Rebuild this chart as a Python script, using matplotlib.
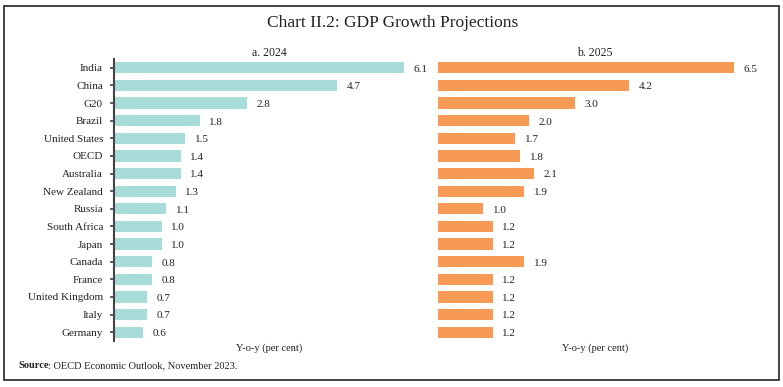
import matplotlib
matplotlib.use("Agg")
import matplotlib.pyplot as plt
from matplotlib.patches import Rectangle

countries = ["India", "China", "G20", "Brazil", "United States", "OECD", "Australia",
             "New Zealand", "Russia", "South Africa", "Japan", "Canada", "France",
             "United Kingdom", "Italy", "Germany"]
g2024 = [6.1, 4.7, 2.8, 1.8, 1.5, 1.4, 1.4, 1.3, 1.1, 1.0, 1.0, 0.8, 0.8, 0.7, 0.7, 0.6]
g2025 = [6.5, 4.2, 3.0, 2.0, 1.7, 1.8, 2.1, 1.9, 1.0, 1.2, 1.2, 1.9, 1.2, 1.2, 1.2, 1.2]

plt.rcParams['font.family'] = ['Liberation Serif', 'DejaVu Serif']

W, H = 783, 387
fig = plt.figure(figsize=(W / 100, H / 100), dpi=100)

# border box
fig.add_artist(Rectangle((4 / W, 1 - 380 / H), 775 / W, 374 / H, transform=fig.transFigure,
                         fill=False, edgecolor="#222222", linewidth=1.2))

fig.text(393 / W, 1 - 23 / H, "Chart II.2: GDP Growth Projections", ha="center", va="center",
         fontsize=12.5, color="#222222")

top = 1 - 59 / H
bot = 1 - 341 / H
ax1 = fig.add_axes([114 / W, bot, 310 / W, top - bot])
ax2 = fig.add_axes([438 / W, bot, 314 / W, top - bot])

pos = list(range(len(countries)))
c1 = "#A8DCD8"
c2 = "#F79A55"

ax1.barh(pos, g2024, height=0.64, color=c1)
ax2.barh(pos, g2025, height=0.64, color=c2)
ax1.set_xlim(0, 310 / 47.5)
ax2.set_xlim(0, 314 / 45.5)

for ax, vals in ((ax1, g2024), (ax2, g2025)):
    ax.set_ylim(len(countries) - 0.5, -0.5)
    for s in ("top", "right", "bottom"):
        ax.spines[s].set_visible(False)
    ax.set_xticks([])
    for p, v in zip(pos, vals):
        ax.annotate(f"{v:.1f}", (v, p), xytext=(7, -1), textcoords="offset points",
                    ha="left", va="center", fontsize=8, color="#222222")
    ax.set_xlabel("Y-o-y (per cent)", fontsize=7.5, color="#222222", labelpad=2)

ax1.set_yticks(pos)
ax1.set_yticklabels(countries, fontsize=8, color="#222222")
ax1.spines["left"].set_color("#444444")
ax1.spines["left"].set_linewidth(1.5)
ax1.tick_params(axis="y", length=3, width=1.2, color="#444444", pad=5)

ax2.spines["left"].set_visible(False)
ax2.set_yticks([])

ax1.set_title("a. 2024", fontsize=8.5, color="#222222", pad=2)
ax2.set_title("b. 2025", fontsize=8.5, color="#222222", pad=2)

src = fig.text(18 / W, 1 - 366 / H, "Source", fontsize=7.5, fontweight="bold",
               va="center", ha="left", color="#222222")
renderer = fig.canvas.get_renderer()
bb = src.get_window_extent(renderer=renderer)
fig.text(bb.x1 / W, 1 - 366 / H, ": OECD Economic Outlook, November 2023.", fontsize=7.5,
         va="center", ha="left", color="#222222")

fig.savefig("out.png", dpi=100)
